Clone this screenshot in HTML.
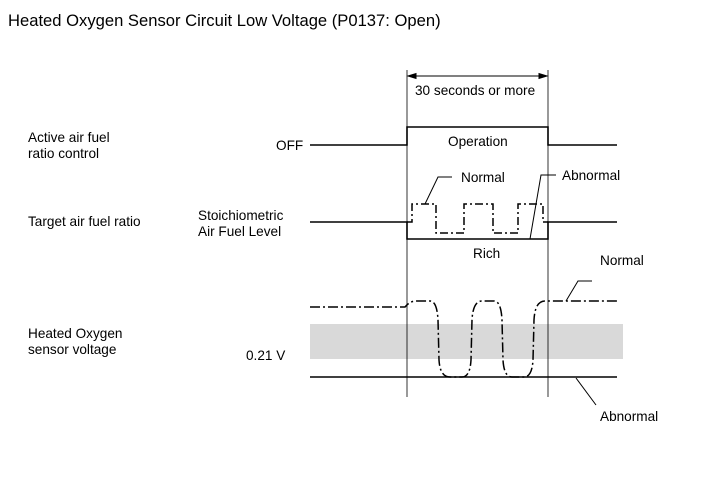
<!DOCTYPE html>
<html><head><style>
body{margin:0;background:#fff;}
svg text{font-family:"Liberation Sans",Arial,sans-serif;fill:#000;}
</style></head><body>
<svg width="713" height="481" viewBox="0 0 713 481" xmlns="http://www.w3.org/2000/svg">
<text x="8" y="26" font-size="16.6">Heated Oxygen Sensor Circuit Low Voltage (P0137: Open)</text>
<g font-size="13.6">
<text x="28" y="142">Active air fuel</text>
<text x="28" y="158">ratio control</text>
<text x="28" y="226">Target air fuel ratio</text>
<text x="28" y="338">Heated Oxygen</text>
<text x="28" y="354">sensor voltage</text>
<text x="276" y="150">OFF</text>
<text x="198" y="220">Stoichiometric</text>
<text x="198" y="236">Air Fuel Level</text>
<text x="246" y="360">0.21 V</text>
<text x="415" y="95">30 seconds or more</text>
<text x="448" y="146">Operation</text>
<text x="461" y="182">Normal</text>
<text x="562" y="180">Abnormal</text>
<text x="473" y="258">Rich</text>
<text x="600" y="265">Normal</text>
<text x="600" y="421">Abnormal</text>
</g>
<rect x="310" y="324" width="313" height="35" fill="#d9d9d9"/>
<g stroke="#000" fill="none">
<line x1="407" y1="70" x2="407" y2="397" stroke-width="0.8"/>
<line x1="548" y1="70" x2="548" y2="397" stroke-width="0.8"/>
<line x1="411" y1="76" x2="544" y2="76" stroke-width="1"/>
<polygon points="408,76 416,73.5 416,78.5" fill="#000"/>
<polygon points="547,76 539,73.5 539,78.5" fill="#000"/>
<polyline points="310,145 407,145 407,127 548,127 548,145 617,145" stroke-width="1.6"/>
<polyline points="310,222 407,222 407,239 548,239 548,222 617,222" stroke-width="1.6"/>
<polyline points="407,222 412,222 412,204 436,204 436,233 464,233 464,204 493,204 493,233 518,233 518,204 543,204 543,222 548,222" stroke-width="1.5" stroke-dasharray="8,3,2,3"/>
<polyline points="425,204 438,177 452,177" stroke-width="1"/>
<polyline points="530,239 541,175 556,175" stroke-width="1"/>
<path d="M310,307 L405,307 Q410,301 416,301 L430,301 Q437,301 438,320 L439,360 Q440,377 450,377 L462,377 Q470,377 471,360 L472,320 Q473,301 482,301 L494,301 Q501,301 502,320 L503,360 Q504,377 512,377 L524,377 Q532,377 533,360 L534,320 Q535,301 545,301 L617,301" stroke-width="1.5" stroke-dasharray="10,3,2,3"/>
<line x1="310" y1="377" x2="617" y2="377" stroke-width="1.6"/>
<polyline points="566,301 578,281 592,281" stroke-width="1"/>
<line x1="576" y1="378" x2="596" y2="405" stroke-width="1"/>
</g>
</svg>
</body></html>
